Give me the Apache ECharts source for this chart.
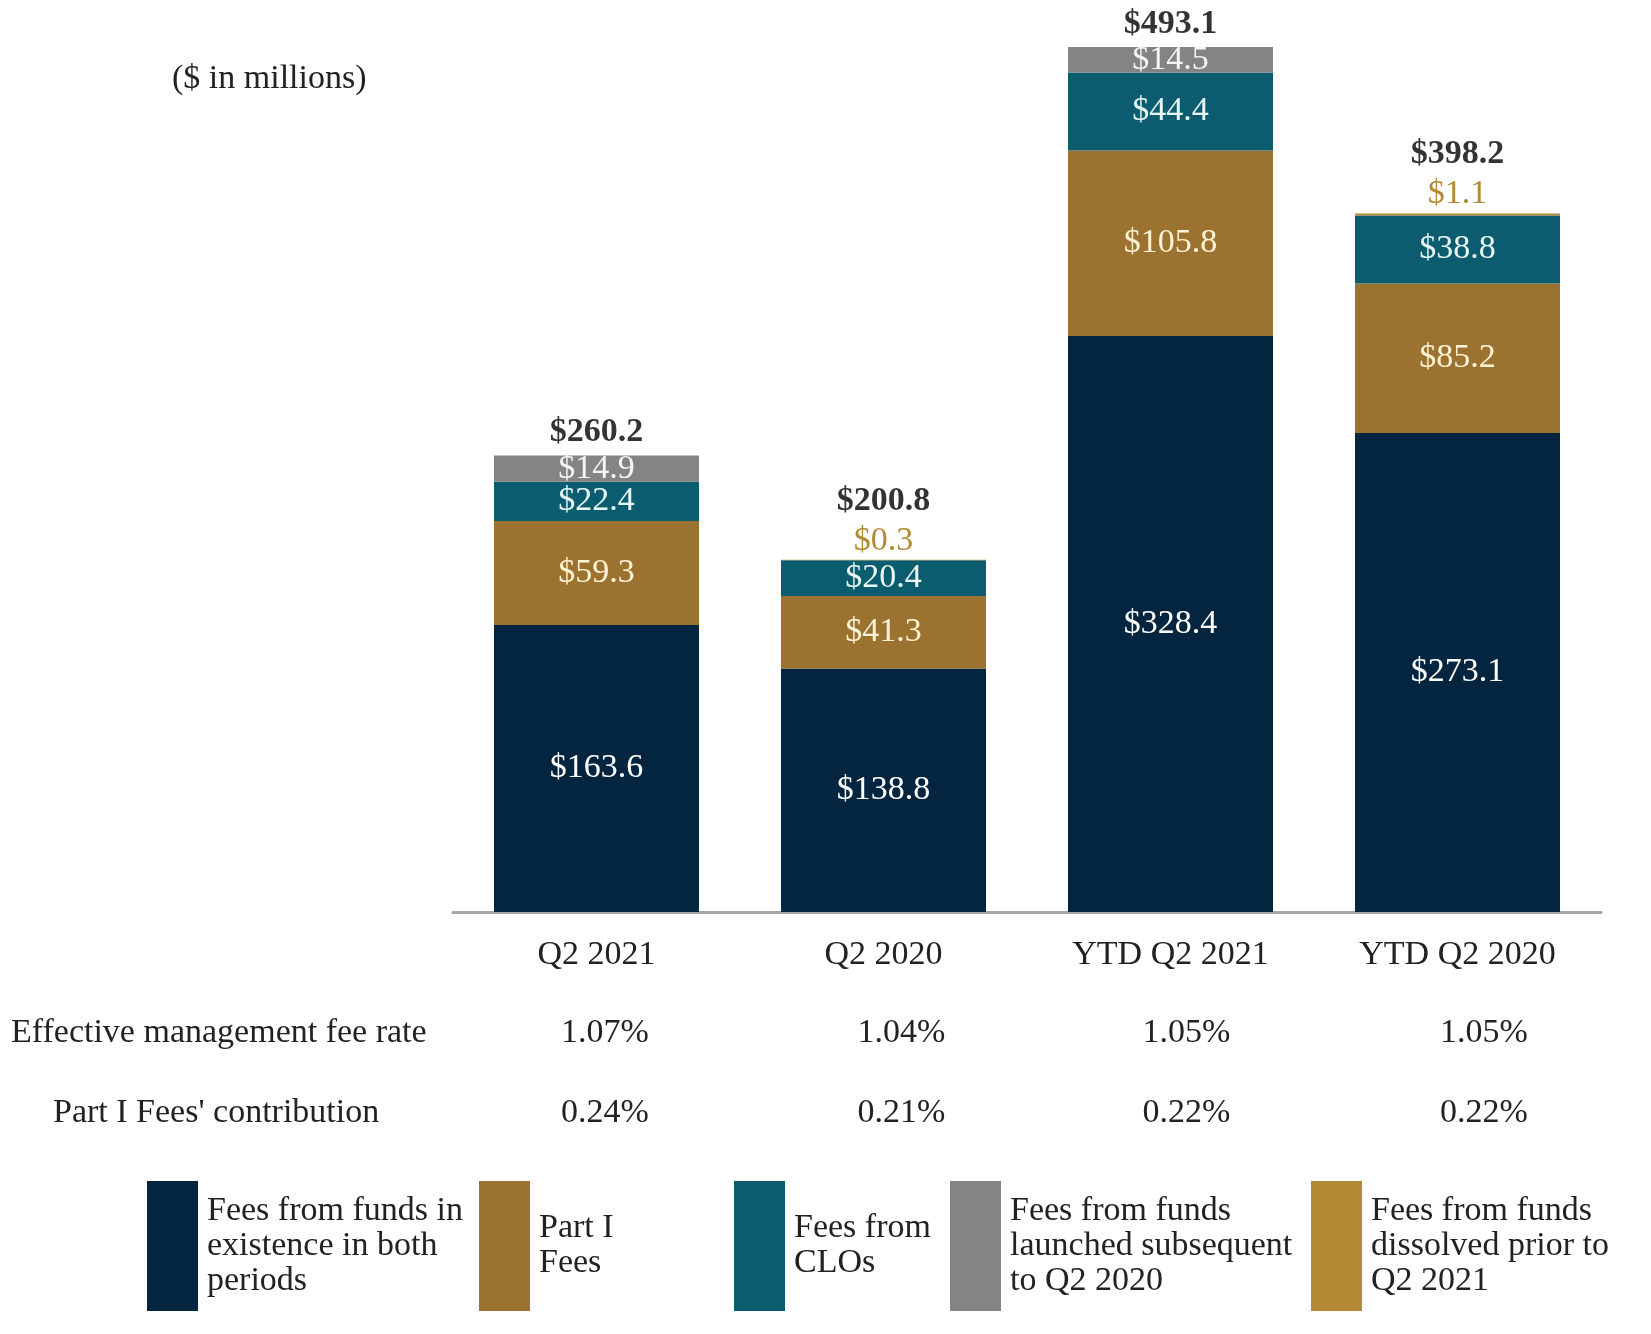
<!DOCTYPE html>
<html>
<head>
<meta charset="utf-8">
<script src="https://cdn.jsdelivr.net/npm/echarts@6/dist/echarts.min.js"></script>
<style>
html,body{margin:0;padding:0;background:#fff;}
#chart{width:1651px;height:1334px;}
</style>
</head>
<body>
<div id="chart"></div>
<script>
const categories = ['Q2 2021', 'Q2 2020', 'YTD Q2 2021', 'YTD Q2 2020'];
const existingFees = [163.6, 138.8, 328.4, 273.1];
const partIFees = [59.3, 41.3, 105.8, 85.2];
const cloFees = [22.4, 20.4, 44.4, 38.8];
const launchedFees = [14.9, null, 14.5, null];
const dissolvedFees = [null, 0.3, null, 1.1];
const totals = [260.2, 200.8, 493.1, 398.2];
const feeRates = ['1.07%', '1.04%', '1.05%', '1.05%'];
const partIContrib = ['0.24%', '0.21%', '0.22%', '0.22%'];
const rowLabels = ['Effective management fee rate', "Part I Fees' contribution"];
const unitNote = '($ in millions)';
const seriesNames = [
  'Fees from funds in existence in both periods',
  'Part I Fees',
  'Fees from CLOs',
  'Fees from funds launched subsequent to Q2 2020',
  'Fees from funds dissolved prior to Q2 2021'
];
const legendLabels = [
  'Fees from funds in\nexistence in both\nperiods',
  'Part I\nFees',
  'Fees from\nCLOs',
  'Fees from funds\nlaunched subsequent\nto Q2 2020',
  'Fees from funds\ndissolved prior to\nQ2 2021'
];

const FONT = "'Liberation Serif', 'Times New Roman', serif";
const colors = ['#03253f', '#9b7230', '#0a5c6e', '#848484', '#b38a34'];
const labelColors = ['#ffffff', '#fff3d6', '#e8f6f5', '#f4f4f4', '#b38a34'];
const seriesData = [existingFees, partIFees, cloFees, launchedFees, dissolvedFees];

const fmt = v => '$' + Number(v).toFixed(1);

const barSeries = seriesData.map((d, i) => ({
  name: seriesNames[i],
  type: 'bar',
  stack: 'fees',
  barWidth: 205,
  xAxisIndex: 0,
  yAxisIndex: 0,
  data: d,
  itemStyle: { color: colors[i] },
  label: {
    show: true,
    position: i === 4 ? 'top' : 'inside',
    distance: 2,
    formatter: p => fmt(p.value),
    color: labelColors[i],
    fontFamily: FONT,
    fontSize: 34
  },
  silent: true
}));

const totalSeries = {
  name: 'Total',
  type: 'scatter',
  xAxisIndex: 0,
  yAxisIndex: 0,
  symbolSize: 0,
  silent: true,
  data: totals.map((v, i) => ({
    value: v,
    label: { offset: [0, dissolvedFees[i] != null ? -36 : 0] }
  })),
  label: {
    show: true,
    position: 'top',
    distance: 6,
    formatter: p => fmt(p.value),
    color: '#000',
    fontWeight: 'bold',
    fontFamily: FONT,
    fontSize: 34
  }
};

const legendLefts = [147, 479, 734, 950, 1311];
const legends = seriesNames.map((n, i) => ({
  data: [n],
  left: legendLefts[i],
  top: 1181,
  padding: 0,
  orient: 'horizontal',
  icon: 'rect',
  itemWidth: 51,
  itemHeight: 130,
  selectedMode: false,
  formatter: () => legendLabels[i],
  textStyle: {
    fontFamily: FONT,
    fontSize: 34,
    lineHeight: 35,
    color: '#222',
    padding: [0, 0, 0, 4]
  }
}));

const colShift = [17, 36, 32, 53];
const richCols = {};
colShift.forEach((s, i) => {
  richCols['c' + i] = { fontFamily: FONT, fontSize: 34, color: '#222', padding: [0, 0, 0, s] };
});

function rowAxis(data, offset) {
  return {
    type: 'category',
    data: data,
    position: 'bottom',
    offset: offset,
    gridIndex: 0,
    axisLine: { show: false },
    axisTick: { show: false },
    axisLabel: {
      margin: 26,
      fontFamily: FONT,
      fontSize: 34,
      color: '#222',
      formatter: (v, idx) => '{c' + idx + '|' + v + '}',
      rich: richCols
    }
  };
}

const option = {
  backgroundColor: '#ffffff',
  animation: false,
  grid: { left: 453, right: 50, top: 35, bottom: 422 },
  xAxis: [
    {
      type: 'category',
      data: categories,
      position: 'bottom',
      axisLine: { show: true, lineStyle: { color: '#a6a6a6', width: 3 } },
      axisTick: { show: false },
      axisLabel: { margin: 26, fontFamily: FONT, fontSize: 34, color: '#222' }
    },
    rowAxis(feeRates, 78),
    rowAxis(partIContrib, 158)
  ],
  yAxis: {
    type: 'value',
    min: 0,
    max: 500,
    show: false,
    splitLine: { show: false }
  },
  legend: legends,
  series: barSeries.concat([totalSeries]),
  graphic: [
    {
      type: 'text', x: 172, y: 79,
      style: { text: unitNote, fontFamily: FONT, fontSize: 34, fill: '#222', verticalAlign: 'middle' }
    },
    {
      type: 'text', x: 11, y: 1033,
      style: { text: rowLabels[0], fontFamily: FONT, fontSize: 34, fill: '#222', verticalAlign: 'middle' }
    },
    {
      type: 'text', x: 53, y: 1113,
      style: { text: rowLabels[1], fontFamily: FONT, fontSize: 34, fill: '#222', verticalAlign: 'middle' }
    }
  ]
};

const chart = echarts.init(document.getElementById('chart'), null, { renderer: 'canvas' });
chart.setOption(option);
</script>
</body>
</html>
